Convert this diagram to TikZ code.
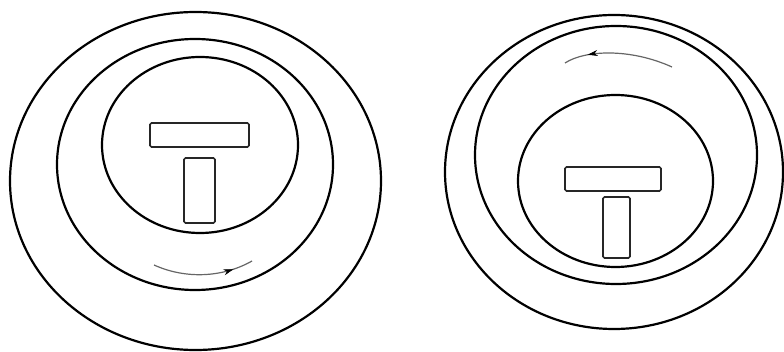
\documentclass[tikz,border=0pt]{standalone}
\usetikzlibrary{arrows.meta,decorations.markings}
\begin{document}
\begin{tikzpicture}[x=1pt,y=-1pt,
  ring/.style={line width=2.2pt,black},
  tbar/.style={line width=1.6pt,black!85,rounded corners=1.5pt},
  motion/.style={line width=1.2pt,black!60},
  fwdtip/.style={postaction={decorate},decoration={markings,
      mark=at position #1 with {\arrow[black,line width=0.6pt]{Stealth[length=10pt,width=6pt]}}}},
  backtip/.style={postaction={decorate},decoration={markings,
      mark=at position #1 with {\arrowreversed[black,line width=0.6pt]{Stealth[length=10pt,width=6pt]}}}}]
\useasboundingbox (0,0) rectangle (784,352);
\clip (0,0) rectangle (784,352);
% left assembly
\draw[ring] (195.5,181) ellipse [x radius=185.5pt, y radius=169pt];
\draw[ring] (195,164.5) ellipse [x radius=138pt, y radius=125.5pt];
\draw[ring] (200,145) ellipse [x radius=98pt, y radius=88pt];
\draw[tbar] (150,123) rectangle (249,147);
\draw[tbar] (184,158) rectangle (215,223);
\coordinate (la) at (154,265);
\coordinate (lb) at (252,261);
\draw[motion,fwdtip=0.8] (la) .. controls (185,279) and (222,278) .. (lb);
% right assembly
\draw[ring] (614,172) ellipse [x radius=169pt, y radius=157pt];
\draw[ring] (616,155) ellipse [x radius=141pt, y radius=129pt];
\draw[ring] (615.5,181) ellipse [x radius=97.5pt, y radius=86pt];
\draw[tbar] (565,167) rectangle (661,191);
\draw[tbar] (603,197) rectangle (630,258);
\coordinate (ra) at (565,63);
\coordinate (rb) at (672,67);
\draw[motion,backtip=0.22] (ra) .. controls (585,50) and (630,48) .. (rb);
\end{tikzpicture}
\end{document}
